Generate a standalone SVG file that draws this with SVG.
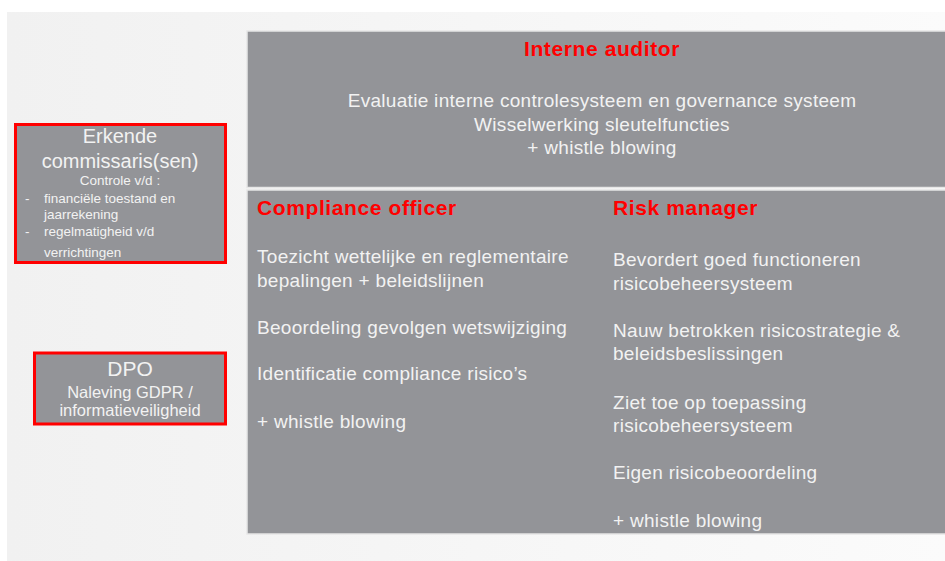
<svg xmlns="http://www.w3.org/2000/svg" width="945" height="561" viewBox="0 0 945 561">
<defs>
<linearGradient id="bg" x1="0" y1="0" x2="1" y2="0">
<stop offset="0" stop-color="#f1f1f1"/>
<stop offset="1" stop-color="#fbfbfb"/>
</linearGradient>
<style>
.panel{fill:#939498;stroke:#e6e6e6;stroke-width:1.5}
.box{fill:#939498;stroke:#ff0000;stroke-width:3}
text{font-family:"Liberation Sans",Arial,sans-serif;fill:#f2f2f2}
.h{fill:#ff0000;font-weight:bold;font-size:21px;letter-spacing:0.6px}
.b{font-size:19px;letter-spacing:0.3px}
.c{text-anchor:middle}
.t{font-size:20px}
.s{font-size:13.5px}
.m{font-size:16.5px}
.d{font-size:21px}
</style>
</defs>
<rect width="945" height="561" fill="#ffffff"/>
<rect x="7" y="12" width="938" height="549" fill="url(#bg)"/>

<g id="interne-auditor">
<rect class="panel" x="247" y="31" width="700" height="156.5"/>
<text class="h c" x="602" y="56">Interne auditor</text>
<text class="b c" x="602" y="107">Evaluatie interne controlesysteem en governance systeem</text>
<text class="b c" x="602" y="131">Wisselwerking sleutelfuncties</text>
<text class="b c" x="602" y="154">+ whistle blowing</text>
</g>

<g id="lower-panel">
<rect class="panel" x="247" y="190" width="700" height="344"/>
</g>

<g id="compliance-officer">
<text class="h" x="257" y="215">Compliance officer</text>
<text class="b" x="257" y="263">Toezicht wettelijke en reglementaire</text>
<text class="b" x="257" y="287">bepalingen + beleidslijnen</text>
<text class="b" x="257" y="334">Beoordeling gevolgen wetswijziging</text>
<text class="b" x="257" y="380">Identificatie compliance risico’s</text>
<text class="b" x="257" y="428">+ whistle blowing</text>
</g>

<g id="risk-manager">
<text class="h" x="613" y="215">Risk manager</text>
<text class="b" x="613" y="266">Bevordert goed functioneren</text>
<text class="b" x="613" y="290">risicobeheersysteem</text>
<text class="b" x="613" y="337">Nauw betrokken risicostrategie &amp;</text>
<text class="b" x="613" y="360">beleidsbeslissingen</text>
<text class="b" x="613" y="409">Ziet toe op toepassing</text>
<text class="b" x="613" y="432">risicobeheersysteem</text>
<text class="b" x="613" y="479">Eigen risicobeoordeling</text>
<text class="b" x="613" y="527">+ whistle blowing</text>
</g>

<g id="erkende-commissaris">
<rect class="box" x="15.5" y="124.5" width="210" height="138"/>
<text class="t c" x="120" y="143">Erkende</text>
<text class="t c" x="120" y="168">commissaris(sen)</text>
<text class="s c" x="120" y="185">Controle v/d :</text>
<text class="s" x="25" y="203">-</text>
<text class="s" x="44" y="203">financiële toestand en</text>
<text class="s" x="44" y="219">jaarrekening</text>
<text class="s" x="25" y="236">-</text>
<text class="s" x="44" y="236">regelmatigheid v/d</text>
<text class="s" x="44" y="257">verrichtingen</text>
</g>

<g id="dpo">
<rect class="box" x="34.5" y="353" width="191" height="71"/>
<text class="d c" x="130" y="376">DPO</text>
<text class="m c" x="130" y="398">Naleving GDPR /</text>
<text class="m c" x="130" y="416">informatieveiligheid</text>
</g>

<g id="connectors"></g>
</svg>
